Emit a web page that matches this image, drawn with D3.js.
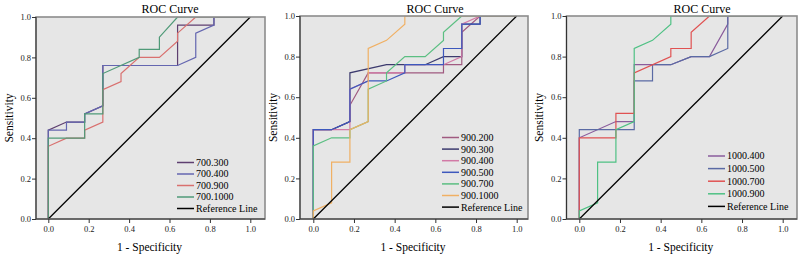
<!DOCTYPE html>
<html><head><meta charset="utf-8">
<script src="https://cdn.jsdelivr.net/npm/d3@7"></script>
<style>
html,body{margin:0;padding:0;background:#fff;}
svg{display:block;}
</style></head>
<body><svg id="c" width="799" height="254"></svg>
<script>
// ---------- data ----------
const tickValues = [0, 0.2, 0.4, 0.6, 0.8, 1.0];
const titleText = "ROC Curve";
const xLabel = "1 - Specificity";
const yLabel = "Sensitivity";
const refLabel = "Reference Line";

// Panel 1
const p1Names = ["700.300", "700.400", "700.900", "700.1000"];
const c700_300 = [[0,0],[0,0.44],[0.09,0.48],[0.18,0.48],[0.18,0.52],[0.27,0.56],[0.27,0.76],[0.64,0.76],[0.64,0.96],[0.82,0.96],[0.82,1],[1,1]];
const c700_400 = [[0,0],[0,0.44],[0.09,0.44],[0.09,0.48],[0.18,0.48],[0.18,0.52],[0.27,0.56],[0.27,0.76],[0.64,0.76],[0.73,0.80],[0.73,0.92],[0.82,0.96],[0.82,1],[1,1]];
const c700_900 = [[0,0],[0,0.36],[0.09,0.40],[0.18,0.40],[0.18,0.44],[0.27,0.48],[0.27,0.64],[0.36,0.68],[0.36,0.72],[0.45,0.80],[0.55,0.80],[0.64,0.88],[0.64,0.92],[0.73,1],[1,1]];
const c700_1000 = [[0,0],[0,0.40],[0.18,0.40],[0.18,0.52],[0.27,0.52],[0.27,0.72],[0.45,0.80],[0.45,0.84],[0.55,0.84],[0.55,0.90],[0.64,1],[1,1]];
const p1Colors = ["#5e3f70", "#6466b0", "#d9706f", "#4f9a78"];

// Panel 2
const p2Names = ["900.200", "900.300", "900.400", "900.500", "900.700", "900.1000"];
const c900_200 = [[0,0],[0,0.44],[0.09,0.44],[0.18,0.48],[0.18,0.56],[0.27,0.72],[0.64,0.72],[0.64,0.76],[0.73,0.76],[0.73,0.92],[0.82,1],[1,1]];
const c900_300 = [[0,0],[0,0.44],[0.09,0.44],[0.18,0.48],[0.18,0.72],[0.36,0.76],[0.55,0.76],[0.64,0.80],[0.73,0.80],[0.73,0.96],[0.82,0.96],[0.82,1],[1,1]];
const c900_400 = [[0,0],[0,0.44],[0.18,0.44],[0.18,0.64],[0.27,0.68],[0.27,0.72],[0.45,0.72],[0.45,0.76],[0.64,0.76],[0.73,0.80],[0.73,0.96],[0.82,1],[1,1]];
const c900_500 = [[0,0],[0,0.44],[0.09,0.44],[0.18,0.48],[0.18,0.64],[0.27,0.68],[0.36,0.68],[0.45,0.72],[0.45,0.76],[0.64,0.76],[0.64,0.84],[0.73,0.84],[0.73,0.96],[0.82,0.96],[0.82,1],[1,1]];
const c900_700 = [[0,0],[0,0.36],[0.09,0.40],[0.18,0.40],[0.18,0.44],[0.27,0.48],[0.27,0.64],[0.36,0.68],[0.36,0.72],[0.45,0.80],[0.55,0.80],[0.64,0.88],[0.64,0.92],[0.73,1],[1,1]];
const c900_1000 = [[0,0],[0,0.04],[0.09,0.08],[0.09,0.28],[0.18,0.28],[0.18,0.44],[0.27,0.48],[0.27,0.84],[0.36,0.88],[0.45,0.96],[0.45,1],[1,1]];
const p2Colors = ["#a05a80", "#3c3a6e", "#d27aa6", "#3d58bd", "#5bbf82", "#f0b064"];

// Panel 3
const p3Names = ["1000.400", "1000.500", "1000.700", "1000.900"];
const c1000_400 = [[0,0],[0,0.40],[0.18,0.48],[0.27,0.48],[0.27,0.76],[0.45,0.76],[0.55,0.80],[0.64,0.80],[0.73,0.96],[0.73,1],[1,1]];
const c1000_500 = [[0,0],[0,0.44],[0.27,0.44],[0.27,0.68],[0.36,0.68],[0.36,0.76],[0.45,0.76],[0.55,0.80],[0.64,0.80],[0.73,0.84],[0.73,1],[1,1]];
const c1000_700 = [[0,0],[0,0.40],[0.18,0.40],[0.18,0.52],[0.27,0.52],[0.27,0.72],[0.45,0.80],[0.45,0.84],[0.55,0.84],[0.55,0.92],[0.64,1],[1,1]];
const c1000_900 = [[0,0],[0,0.04],[0.09,0.08],[0.09,0.28],[0.18,0.28],[0.18,0.44],[0.27,0.48],[0.27,0.84],[0.36,0.88],[0.45,0.96],[0.45,1],[1,1]];
const p3Colors = ["#8a5c9c", "#5a6aa4", "#e05252", "#4fc184"];

const refCurve = [[0,0],[1,1]];

// ---------- layout ----------
const FONT = "Liberation Serif";
const panels = [
  {names: p1Names, curves: [c700_300, c700_400, c700_900, c700_1000], colors: p1Colors,
   box: [36, 17, 265, 219], x0: 48.3, x1: 250.3, titleX: 170, ylabX: 9, legX: 177, legY: 162.5, legStep: 11.5},
  {names: p2Names, curves: [c900_200, c900_300, c900_400, c900_500, c900_700, c900_1000], colors: p2Colors,
   box: [300, 16, 528, 219], x0: 313.3, x1: 516.7, titleX: 435, ylabX: 273, legX: 442, legY: 137.5, legStep: 11.6},
  {names: p3Names, curves: [c1000_400, c1000_500, c1000_700, c1000_900], colors: p3Colors,
   box: [566.5, 16, 797, 219], x0: 579.3, x1: 782.7, titleX: 702, ylabX: 539, legX: 708, legY: 156, legStep: 12.6}
];

const svg = d3.select("#c");

panels.forEach(p => {
  const [L, T, R, B] = p.box;
  const x = d3.scaleLinear().domain([0, 1]).range([p.x0, p.x1]);
  const y = d3.scaleLinear().domain([0, 1]).range([B, T]);
  const g = svg.append("g");

  g.append("rect").attr("x", L).attr("y", T).attr("width", R - L).attr("height", B - T)
    .attr("fill", "#e6e6e6");

  const line = d3.line().x(d => x(d[0])).y(d => y(d[1]));
  const clip = "clip" + Math.round(L);
  g.append("clipPath").attr("id", clip).append("rect")
    .attr("x", L).attr("y", T).attr("width", R - L).attr("height", B - T);
  const cg = g.append("g").attr("clip-path", `url(#${clip})`);

  p.curves.forEach((c, i) => {
    cg.append("path").attr("d", line(c)).attr("fill", "none")
      .attr("stroke", p.colors[i]).attr("stroke-width", 1.2);
  });
  cg.append("path").attr("d", line(refCurve)).attr("fill", "none")
    .attr("stroke", "#000").attr("stroke-width", 1.3);

  // frame on top
  g.append("rect").attr("x", L).attr("y", T).attr("width", R - L).attr("height", B - T)
    .attr("fill", "none").attr("stroke", "#8c8c8c").attr("stroke-width", 1.6);

  // axes
  const xAxis = d3.axisBottom(x).tickValues(tickValues).tickFormat(d3.format(".1f")).tickSize(4).tickPadding(3).tickSizeOuter(0);
  const xa = g.append("g").attr("transform", `translate(0,${B})`).call(xAxis);
  xa.attr("font-family", FONT);
  xa.select(".domain").remove();
  xa.append("line").attr("x1", L).attr("x2", R).attr("stroke", "#333");
  xa.selectAll(".tick line").attr("stroke", "#333");
  xa.selectAll("text").attr("font-family", FONT).attr("font-size", 8.5).attr("fill", "#222");

  const yAxis = d3.axisLeft(y).tickValues(tickValues).tickFormat(d3.format(".1f")).tickSize(4).tickPadding(1).tickSizeOuter(0);
  const ya = g.append("g").attr("transform", `translate(${L},0)`).call(yAxis);
  ya.attr("font-family", FONT);
  ya.select(".domain").remove();
  ya.append("line").attr("y1", T).attr("y2", B).attr("stroke", "#333");
  ya.selectAll(".tick line").attr("stroke", "#333");
  ya.selectAll("text").attr("font-family", FONT).attr("font-size", 8.5).attr("fill", "#222");

  // titles
  g.append("text").attr("x", p.titleX).attr("y", 13).attr("text-anchor", "middle")
    .attr("font-family", FONT).attr("font-size", 12).attr("fill", "#000").text(titleText);
  g.append("text").attr("x", (L + R) / 2 - 1).attr("y", 250.5).attr("text-anchor", "middle")
    .attr("font-family", FONT).attr("font-size", 11.5).attr("fill", "#000").text(xLabel);
  g.append("text").attr("transform", `translate(${p.ylabX + 3.5},${(T + B) / 2}) rotate(-90)`)
    .attr("text-anchor", "middle").attr("font-family", FONT).attr("font-size", 11.5).attr("fill", "#000").text(yLabel);

  // legend
  const legNames = p.names.concat([refLabel]);
  const legColors = p.colors.concat(["#000"]);
  legNames.forEach((n, i) => {
    const yy = p.legY + i * p.legStep;
    g.append("line").attr("x1", p.legX).attr("x2", p.legX + 17).attr("y1", yy).attr("y2", yy)
      .attr("stroke", legColors[i]).attr("stroke-width", 1.5);
    g.append("text").attr("x", p.legX + 19).attr("y", yy + 3.4).attr("font-family", FONT).attr("font-size", 10)
      .attr("fill", "#000").text(n);
  });
});
</script>
</body></html>
